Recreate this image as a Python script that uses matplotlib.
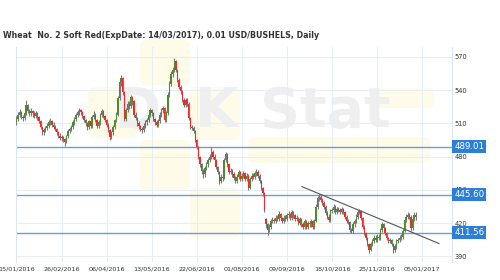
import matplotlib.pyplot as plt
from matplotlib.patches import FancyBboxPatch

# ------------------------------
# Data
# ------------------------------
title = "Wheat  No. 2 Soft Red(ExpDate: 14/03/2017), 0.01 USD/BUSHELS, Daily"

opens = [511, 514, 518, 520, 516, 515, 519, 527, 521, 519, 521, 519, 517, 519, 516, 512, 507, 502, 504, 506,
         508, 511, 512, 509, 507, 505, 502, 499, 497, 498, 496, 493, 499, 503, 505, 507, 511, 514, 518, 520,
         522, 520, 517, 513, 510, 507, 512, 508, 516, 518, 513, 508, 511, 518, 521, 517, 513, 509, 504, 498,
         502, 507, 513, 518, 533, 547, 551, 538, 514, 522, 528, 526, 534, 530, 518, 515, 510, 508, 505, 504,
         508, 511, 513, 518, 522, 519, 514, 511, 509, 512, 518, 522, 524, 513, 519, 536, 546, 555, 558, 566,
         558, 549, 543, 539, 531, 527, 531, 528, 515, 507, 506, 503, 495, 489, 480, 473, 467, 464, 470, 473,
         477, 480, 484, 480, 477, 471, 466, 458, 462, 461, 477, 482, 473, 466, 467, 464, 461, 458, 462, 466,
         460, 463, 465, 460, 463, 452, 460, 463, 462, 465, 466, 463, 458, 452, 447, 424, 419, 414, 417, 422,
         423, 422, 425, 424, 428, 425, 422, 425, 424, 427, 428, 425, 430, 427, 424, 425, 420, 424, 419, 417,
         422, 417, 420, 419, 422, 417, 422, 435, 443, 444, 441, 438, 435, 429, 426, 423, 431, 432, 435, 430,
         433, 432, 430, 433, 430, 426, 422, 421, 414, 413, 419, 422, 426, 430, 431, 425, 417, 411, 407, 401,
         396, 401, 404, 407, 405, 408, 407, 414, 419, 416, 411, 407, 404, 405, 401, 396, 399, 404, 405, 407,
         408, 413, 423, 426, 427, 426, 416, 424, 427]
closes = [514, 518, 520, 516, 515, 519, 527, 521, 519, 521, 519, 517, 519, 516, 512, 507, 502, 504, 506, 508,
          511, 512, 509, 507, 505, 502, 499, 497, 498, 496, 493, 499, 503, 505, 507, 511, 514, 518, 520, 522,
          520, 517, 513, 510, 507, 512, 508, 516, 518, 513, 508, 511, 518, 521, 517, 513, 509, 504, 498, 502,
          507, 513, 518, 533, 547, 551, 538, 514, 522, 528, 526, 534, 530, 518, 515, 510, 508, 505, 504, 508,
          511, 513, 518, 522, 519, 514, 511, 509, 512, 518, 522, 524, 513, 519, 536, 546, 555, 558, 566, 558,
          549, 543, 539, 531, 527, 531, 528, 515, 507, 506, 503, 495, 489, 480, 473, 467, 464, 470, 473, 477,
          480, 484, 480, 477, 471, 466, 458, 462, 461, 477, 482, 473, 466, 467, 464, 461, 458, 462, 466, 460,
          463, 465, 460, 463, 452, 460, 463, 462, 465, 466, 463, 458, 452, 447, 432, 419, 414, 417, 422, 423,
          422, 425, 424, 428, 425, 422, 425, 424, 427, 428, 425, 430, 427, 424, 425, 420, 424, 419, 417, 422,
          417, 420, 419, 422, 417, 422, 435, 443, 444, 441, 438, 435, 429, 426, 423, 431, 432, 435, 430, 433,
          432, 430, 433, 430, 426, 422, 421, 414, 413, 419, 422, 426, 430, 431, 425, 417, 411, 407, 401, 396,
          401, 404, 407, 405, 408, 407, 414, 419, 416, 411, 407, 404, 405, 401, 396, 399, 404, 405, 407, 408,
          413, 423, 426, 427, 426, 416, 424, 427, 426]
highs = [517, 520, 523, 521, 518, 522, 531, 528, 523, 524, 522, 521, 521, 520, 517, 513, 508, 506, 508, 510,
         513, 515, 513, 511, 509, 506, 503, 501, 500, 499, 497, 500, 505, 507, 509, 513, 516, 519, 522, 524,
         523, 521, 518, 514, 511, 513, 513, 518, 521, 519, 514, 513, 519, 523, 522, 518, 514, 510, 505, 503,
         509, 514, 520, 535, 549, 554, 552, 539, 524, 530, 530, 536, 535, 531, 520, 516, 512, 509, 507, 510,
         513, 515, 520, 524, 523, 520, 515, 513, 514, 520, 524, 526, 525, 521, 538, 548, 557, 561, 569, 567,
         559, 551, 545, 540, 533, 533, 533, 529, 516, 509, 508, 504, 496, 490, 481, 474, 469, 472, 475, 479,
         482, 489, 486, 482, 478, 472, 467, 464, 464, 479, 484, 483, 474, 470, 469, 466, 463, 464, 468, 467,
         465, 467, 466, 465, 464, 462, 465, 465, 467, 469, 468, 464, 459, 453, 448, 425, 420, 419, 424, 426,
         425, 427, 427, 431, 429, 426, 427, 427, 429, 431, 429, 432, 431, 428, 427, 426, 426, 425, 421, 424,
         423, 422, 422, 424, 423, 424, 437, 445, 446, 446, 443, 440, 436, 431, 428, 433, 434, 437, 436, 435,
         435, 434, 435, 434, 431, 427, 424, 422, 416, 421, 424, 428, 432, 433, 432, 426, 418, 412, 408, 402,
         403, 406, 409, 409, 410, 410, 416, 421, 420, 417, 412, 408, 407, 406, 402, 401, 406, 407, 409, 410,
         415, 425, 428, 430, 429, 427, 426, 430, 430]
lows = [509, 512, 516, 514, 512, 513, 518, 519, 517, 517, 516, 515, 515, 513, 510, 505, 500, 500, 502, 504,
        506, 509, 507, 505, 503, 500, 497, 495, 494, 493, 490, 492, 497, 501, 503, 505, 509, 512, 516, 518,
        518, 515, 511, 508, 504, 505, 506, 506, 514, 511, 506, 506, 509, 516, 515, 511, 507, 502, 495, 496,
        500, 505, 511, 517, 531, 544, 536, 512, 512, 520, 523, 524, 527, 516, 513, 508, 505, 503, 501, 502,
        506, 509, 511, 516, 517, 512, 509, 507, 507, 510, 516, 519, 511, 511, 518, 534, 544, 552, 556, 556,
        547, 541, 537, 529, 525, 525, 526, 513, 505, 504, 501, 493, 487, 478, 471, 464, 461, 462, 468, 471,
        475, 478, 478, 475, 469, 464, 455, 456, 458, 460, 475, 471, 464, 464, 462, 459, 456, 456, 460, 458,
        458, 461, 458, 458, 450, 451, 458, 460, 460, 463, 461, 456, 450, 445, 430, 416, 409, 412, 415, 420,
        420, 420, 422, 422, 423, 420, 420, 422, 422, 425, 423, 423, 425, 422, 422, 418, 418, 417, 415, 415,
        415, 415, 417, 417, 415, 415, 421, 433, 440, 439, 436, 433, 427, 424, 421, 421, 429, 430, 428, 428,
        430, 428, 428, 428, 424, 420, 419, 412, 411, 411, 417, 420, 424, 428, 423, 415, 409, 405, 399, 393,
        395, 399, 402, 403, 403, 405, 405, 412, 414, 409, 405, 402, 402, 399, 393, 394, 397, 402, 403, 405,
        406, 412, 421, 424, 424, 413, 414, 422, 423]

tick_labels = ["15/01/2016", "26/02/2016", "06/04/2016", "13/05/2016", "22/06/2016",
               "01/08/2016", "09/09/2016", "18/10/2016", "25/11/2016", "05/01/2017"]
tick_step = 28

y_ticks = [390, 420, 450, 480, 510, 540, 570]
levels = [489.01, 445.60, 411.56]

# trendline drawn on the chart (candle index, price)
trend_x = [177.3, 262.4]
trend_y = [453.0, 401.7]

# ------------------------------
# Figure
# ------------------------------
W, H = 500, 280
fig = plt.figure(figsize=(W / 100, H / 100), dpi=100)
fig.patch.set_facecolor("white")

def fx(px):
    return px / W

def fy(py):
    return 1 - py / H

# watermark in a background axes: pale yellow rounded squares + "DK Stat"
bg = fig.add_axes([0, 0, 1, 1], zorder=0)
bg.set_xlim(0, W)
bg.set_ylim(H, 0)
bg.axis("off")
boxes = [(88, 87, 50, 51), (140, 40, 50, 45), (190, 87, 50, 53), (140, 140, 50, 50),
         (190, 188, 50, 50), (248, 137, 182, 26), (372, 88, 62, 20)]
for bx, by, bw, bh in boxes:
    bg.add_patch(FancyBboxPatch((bx, by), bw, bh, boxstyle="round,pad=0,rounding_size=6",
                                facecolor="#fffbe9", edgecolor="none"))
for txt, px in [("D", 138), ("K", 216), ("Stat", 325)]:
    bg.text(px, 112, txt, fontsize=40, fontweight="bold", color="#efefef",
            ha="center", va="center")

ax = fig.add_axes([fx(16), fy(262), fx(452) - fx(16), fy(47) - fy(262)], zorder=2)
ax.set_facecolor("none")

# ------------------------------
# Candles
# ------------------------------
n = len(closes)
xs = list(range(n))
ax.vlines(xs, lows, highs, color="#7a7a7a", linewidth=0.8, zorder=3)
body_bottom = [min(o, c) for o, c in zip(opens, closes)]
body_height = [max(abs(c - o), 0.6) for o, c in zip(opens, closes)]
body_color = ["#4c8c2c" if c >= o else "#ee2a2a" for o, c in zip(opens, closes)]
ax.bar(xs, body_height, bottom=body_bottom, width=0.85, color=body_color,
       linewidth=0, zorder=4)

# horizontal levels + labels
for lv in levels:
    ax.axhline(lv, color="#6a9fd6", linewidth=1.0, zorder=2)
    ax.annotate(f"{lv:.2f}", xy=(1.0, lv), xycoords=("axes fraction", "data"),
                xytext=(1.5, 0), textcoords="offset points", ha="left", va="center",
                fontsize=6.2, color="white", zorder=6,
                bbox=dict(boxstyle="square,pad=0.22", facecolor="#2b7fd6", edgecolor="none"))

ax.plot(trend_x, trend_y, color="#555555", linewidth=0.8, zorder=5)

# ------------------------------
# Axes styling
# ------------------------------
ax.set_xlim(-0.3, 270.5)
ax.set_ylim(385, 579)
ax.set_xticks([i * tick_step for i in range(len(tick_labels))])
ax.set_xticklabels(tick_labels, fontsize=4.6, color="#333333")
ax.get_xticklabels()[0].set_x(0.8)
ax.set_yticks(y_ticks)
ax.set_yticklabels([str(v) for v in y_ticks], fontsize=4.8, color="#333333")
ax.yaxis.tick_right()
ax.tick_params(axis="y", length=0, pad=2)
ax.tick_params(axis="x", length=0, pad=3)
ax.grid(True, color="#e6eef7", linewidth=0.8, zorder=0)
for side in ["top", "bottom"]:
    ax.spines[side].set_visible(False)
for side in ["left", "right"]:
    ax.spines[side].set_color("#dde6f0")

fig.text(fx(3), fy(35), title, fontsize=5.7, fontweight="bold", color="#333333",
         ha="left", va="center")

fig.savefig("out.png", dpi=100)
